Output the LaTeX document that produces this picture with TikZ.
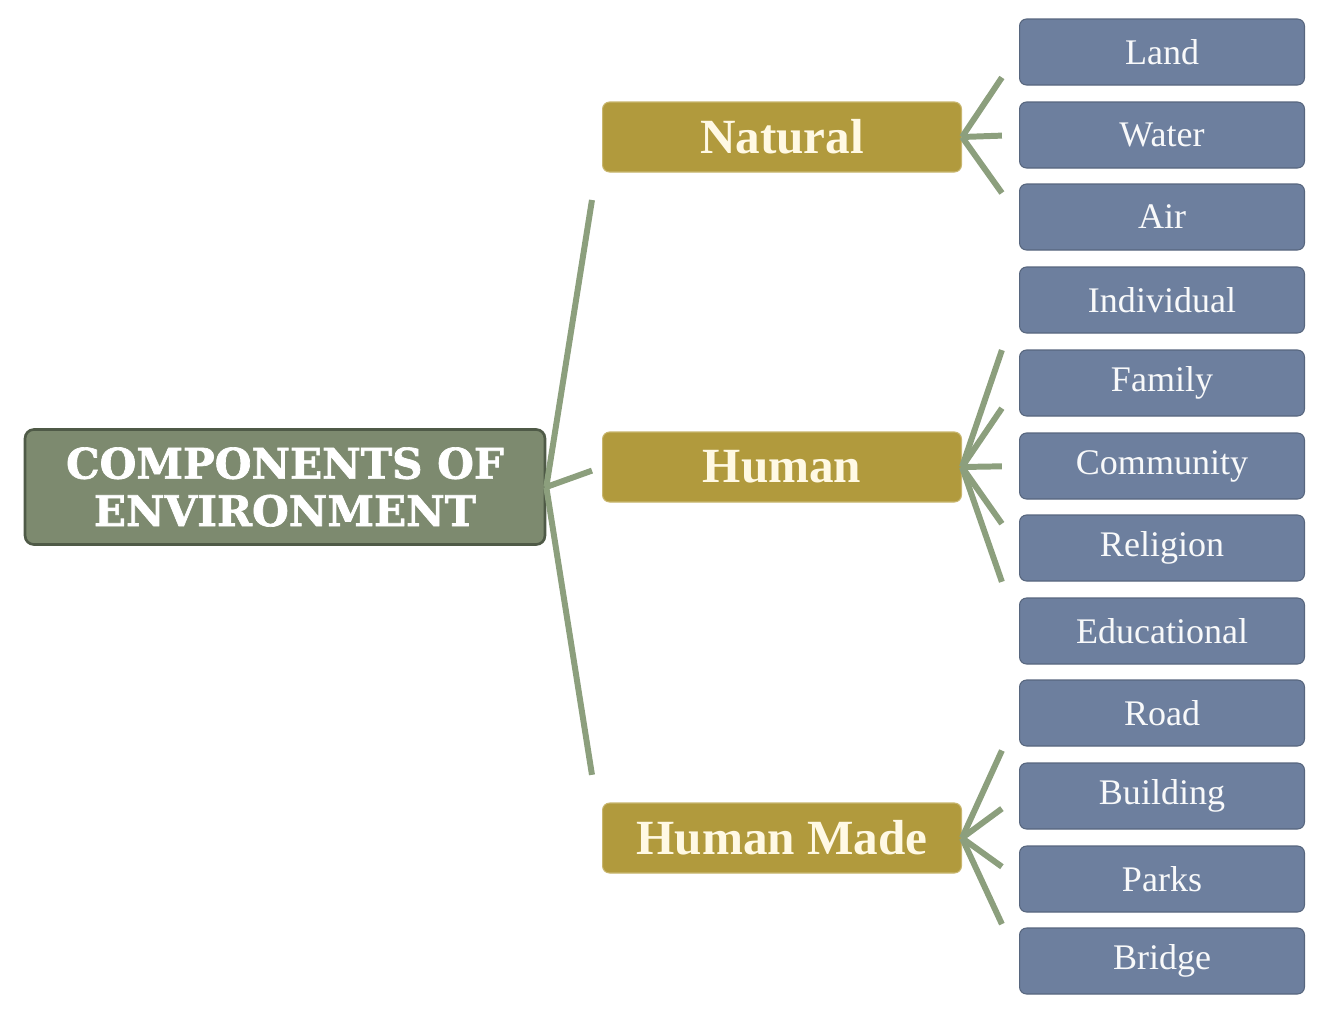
\documentclass[tikz,border=0pt]{standalone}
\usepackage{fontspec}
\setmainfont{Liberation Serif}
\newfontfamily\rootfont{DejaVu Serif}[BoldFeatures={FakeBold=1.6}]
\usetikzlibrary{calc}

\definecolor{rootgreen}{HTML}{7D8A6F}
\definecolor{rootedge}{HTML}{4F5A47}
\definecolor{midgold}{HTML}{B19A3D}
\definecolor{leafblue}{HTML}{6D7F9E}
\definecolor{linkgreen}{HTML}{8C9F7D}
\definecolor{cream}{HTML}{FFF9E4}

\begin{document}
\begin{tikzpicture}
    [x=0.02cm, y=-0.02cm,
     root box/.style={fill=rootgreen, draw=rootedge, line width=1.5pt, rounded corners=5pt,
       minimum width=10.4cm, minimum height=2.3cm, align=center, text=white,
       font=\rootfont\bfseries\fontsize{24}{27}\selectfont},
     mid box/.style={fill=midgold, draw=midgold!70!cream, line width=0.6pt, rounded corners=4pt,
       minimum width=7.18cm, minimum height=1.4cm, text=cream,
       font=\bfseries\fontsize{28}{30}\selectfont},
     leaf box/.style={fill=leafblue, draw=leafblue!80!black, line width=0.6pt, rounded corners=4pt,
       minimum width=5.7cm, minimum height=1.32cm, text=white!95!leafblue,
       font=\fontsize{20.5}{22}\selectfont},
     link/.style={draw=linkgreen, line width=3.4pt}]
    \useasboundingbox (0,0) rectangle (1318,1012);

    % root and the three groups
    \node[root box] (root) at (285,487) {COMPONENTS OF\\ENVIRONMENT};
    \node[mid box] (natural) at (782,137) {Natural};
    \node[mid box] (human) at (782,467) {Human};
    \node[mid box] (humanmade) at (782,838) {Human Made};

    % leaves
    \foreach \name/\txt/\y in {land/Land/52, water/Water/135, air/Air/217,
        individual/Individual/300, family/Family/383, community/Community/466,
        religion/Religion/548, educational/Educational/631, road/Road/713,
        building/Building/796, parks/Parks/879, bridge/Bridge/961}
      \node[leaf box] (\name) at (1162,\y) {\txt};

    % connectors
    \foreach \mid in {natural, human, humanmade}
      \draw[link] (root.east) -- ($(root.east)!0.82!(\mid.west)$);
    \foreach \mid/\leaf in {natural/land, natural/water, natural/air,
        human/individual, human/family, human/community, human/religion, human/educational,
        humanmade/road, humanmade/building, humanmade/parks, humanmade/bridge}
      \draw[link] (\mid.east) -- ($(\mid.east)!0.7!(\leaf.west)$);
\end{tikzpicture}
\end{document}
